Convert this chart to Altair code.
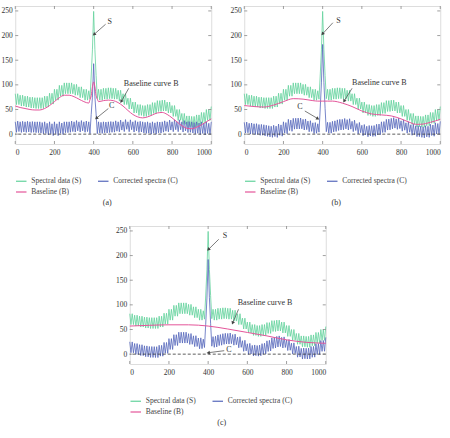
import altair as alt
import numpy as np
import pandas as pd

# ---------------- data ----------------
env_x = list(range(0, 1001, 25))
s_upper = [82, 79, 77, 75, 74, 74, 77, 83, 91, 99, 104, 104, 101, 96, 91, 88, 89, 91, 93, 94, 93,
           89, 82, 73, 65, 60, 58, 60, 64, 68, 69, 65, 58, 50, 42, 37, 36, 39, 44, 50, 56]
s_lower = [60, 57, 55, 53, 52, 52, 55, 61, 69, 77, 82, 82, 79, 74, 69, 66, 67, 69, 71, 72, 71,
           67, 60, 51, 43, 38, 36, 38, 42, 46, 47, 43, 36, 28, 20, 15, 14, 17, 22, 28, 34]
spike_x = [381.25, 387.5, 393.75, 400, 406.25, 412.5, 418.75]
spike_extra = [5, 30, 105, 160, 105, 30, 5]

ba_x = [0, 25, 50, 75, 100, 125, 150, 175, 200, 225, 250, 275, 300, 325, 350, 375,
        381.25, 387.5, 393.75, 400, 406.25, 412.5, 418.75,
        425, 450, 475, 500, 525, 550, 575, 600, 625, 650, 675, 700, 725, 750, 775, 800,
        825, 850, 875, 900, 925, 950, 975, 1000]
ba_v = [57, 54, 52, 50, 49, 49, 52, 58, 66, 74, 79, 79, 76, 71, 66, 63,
        70, 78, 96, 106, 96, 78, 71,
        66, 68, 69, 68, 64, 57, 48, 40, 35, 33, 35, 39, 43, 44, 40, 33,
        25, 17, 12, 11, 14, 19, 25, 31]

bb_x = [0, 50, 100, 150, 200, 250, 300, 350, 375, 400, 425, 450, 500, 550, 600, 650,
        700, 750, 800, 850, 875, 900, 950, 1000]
bb_v = [58, 56, 55, 59, 66, 72, 71, 68, 67, 67, 67, 67, 63, 56, 47, 41, 39, 37, 31, 23,
        20, 20, 24, 30]

bc_x = [0, 100, 200, 300, 400, 500, 600, 700, 800, 900, 1000]
bc_v = [57, 58.5, 59.5, 59.5, 57, 51, 44, 37, 29, 24, 22]

x_ticks = [0, 200, 400, 600, 800, 1000]
y_ticks = [0, 50, 100, 150, 200, 250]

# legend fills column by column: first column S and B, second column C
series_names = ["Spectral data (S)", "Baseline (B)", "Corrected spectra (C)"]
series_colors = ["#62d29c", "#e4559a", "#5567bb"]

ann_a = {"text": ["S", "Baseline curve B", "C"], "x": [471, 554, 478], "y": [228, 102, 57]}
arr_a = {"x1": [461, 579, 475], "y1": [223, 93, 52], "x2": [404, 542, 416], "y2": [203, 67, 33]}
ann_b = {"text": ["S", "Baseline curve B", "C"], "x": [469, 550, 270], "y": [230, 103, 55]}
arr_b = {"x1": [452, 550, 309], "y1": [226, 93, 47], "x2": [401, 511, 373], "y2": [204, 68, 32]}
ann_c = {"text": ["S", "Baseline curve B", "C"], "x": [474, 551, 492], "y": [240, 103, 8]}
arr_c = {"x1": [454, 555, 482], "y1": [233, 91, 7], "x2": [403, 526, 403], "y2": [213, 64, 3]}

# ---------------- build the zigzag spectrum ----------------
zx, zs = [], []
for k in range(len(env_x) - 1):
    for j, off in enumerate([0, 6.25, 12.5, 18.75]):
        zx.append(env_x[k] + off)
        zs.append(s_upper[k] if j % 2 == 0 else s_lower[k])
zx.append(env_x[-1])
zs.append(s_upper[-1])
zx = np.array(zx)
zs = np.array(zs, dtype=float)
for sx, se in zip(spike_x, spike_extra):
    zs[np.isclose(zx, sx)] += se

W, H = 196, 138
YMIN, YMAX = -20, 260
FONT = "Liberation Serif"
GRAY = "#444444"

XS = alt.Scale(domain=[0, 1000], nice=False, zero=False)
YS = alt.Scale(domain=[YMIN, YMAX], nice=False, zero=False)
XAX = alt.Axis(values=x_ticks, format="d", labelFont=FONT, labelFontSize=7.5, labelColor="#333",
               ticks=False, tickSize=0, domain=False, grid=False, labelPadding=4, title=None)
YAX = alt.Axis(values=y_ticks, format="d", labelFont=FONT, labelFontSize=7.5, labelColor="#333",
               ticks=False, tickSize=0, domain=False, grid=False, labelPadding=3, title=None)


def X(f):
    return alt.X(f, scale=XS, axis=XAX, title=None)


def Y(f):
    return alt.Y(f, scale=YS, axis=YAX, title=None)


def panel(bx, bv, ann, arr, label):
    c = zs - np.interp(zx, bx, bv)
    df_s = pd.DataFrame({"x": zx, "y": zs, "series": "Spectral data (S)"})
    df_c = pd.DataFrame({"x": zx, "y": c, "series": "Corrected spectra (C)"})
    df_b = pd.DataFrame({"x": bx, "y": bv, "series": "Baseline (B)"})

    legend = alt.Legend(orient="none", legendX=0, legendY=H + 31, columns=2,
                        symbolType="stroke", symbolSize=110, symbolStrokeWidth=1.2,
                        labelFont=FONT, labelFontSize=7.5, labelColor=GRAY,
                        labelOffset=4, columnPadding=14, rowPadding=1, title=None,
                        padding=0)
    color = alt.Color("series:N", scale=alt.Scale(domain=series_names, range=series_colors),
                      legend=legend)

    l_s = alt.Chart(df_s).mark_line(strokeWidth=0.8).encode(x=X("x:Q"), y=Y("y:Q"), color=color)
    l_c = alt.Chart(df_c).mark_line(strokeWidth=0.8).encode(x=X("x:Q"), y=Y("y:Q"), color=color)
    l_b = alt.Chart(df_b).mark_line(strokeWidth=1, interpolate="monotone").encode(
        x=X("x:Q"), y=Y("y:Q"), color=color)

    zero = alt.Chart(pd.DataFrame({"y": [0]})).mark_rule(
        strokeDash=[3, 2], color="#333", strokeWidth=0.8).encode(y=Y("y:Q"))

    tx = pd.DataFrame({"x": x_ticks})
    ty = pd.DataFrame({"y": y_ticks})
    tick_style = dict(color="#888", strokeWidth=0.8)
    t_b = alt.Chart(tx).mark_rule(**tick_style).encode(x=X("x:Q"), y=alt.value(H), y2=alt.value(H - 3))
    t_t = alt.Chart(tx).mark_rule(**tick_style).encode(x=X("x:Q"), y=alt.value(0), y2=alt.value(3))
    t_l = alt.Chart(ty).mark_rule(**tick_style).encode(y=Y("y:Q"), x=alt.value(0), x2=alt.value(3))
    t_r = alt.Chart(ty).mark_rule(**tick_style).encode(y=Y("y:Q"), x=alt.value(W), x2=alt.value(W - 3))

    df_ann = pd.DataFrame(ann)
    texts = alt.Chart(df_ann).mark_text(align="left", baseline="middle", font=FONT,
                                        fontSize=8, color="#333").encode(
        x=X("x:Q"), y=Y("y:Q"), text="text:N")

    df_arr = pd.DataFrame(arr)
    sx, sy = W / 1000.0, H / (YMAX - YMIN)
    dxp = (df_arr["x2"] - df_arr["x1"]) * sx
    dyp = -(df_arr["y2"] - df_arr["y1"]) * sy
    df_arr["ang"] = (np.degrees(np.arctan2(dxp, -dyp)) + 360) % 360
    lines = alt.Chart(df_arr).mark_rule(color=GRAY, strokeWidth=0.7).encode(
        x=X("x1:Q"), y=Y("y1:Q"), x2="x2:Q", y2="y2:Q")
    heads = alt.Chart(df_arr).mark_point(shape="triangle", filled=True, size=14,
                                         color=GRAY, opacity=1).encode(
        x=X("x2:Q"), y=Y("y2:Q"), angle=alt.Angle("ang:Q", scale=None))

    lab = alt.Chart(pd.DataFrame({"label": [label]})).mark_text(
        font=FONT, fontSize=8, color="#333", align="center", baseline="middle").encode(
        text="label:N", x=alt.value(W / 2 - 6), y=alt.value(H + 59))

    return alt.layer(l_s, l_c, l_b, zero, t_b, t_t, t_l, t_r, lines, heads, texts, lab).properties(
        width=W, height=H)


pa = panel(ba_x, ba_v, ann_a, arr_a, "(a)")
pb = panel(bb_x, bb_v, ann_b, arr_b, "(b)")
pc = panel(bc_x, bc_v, ann_c, arr_c, "(c)")

top = alt.hconcat(pa, pb, spacing=15).resolve_scale(color="independent")
chart = alt.vconcat(top, pc, spacing=17, center=True).resolve_scale(
    color="independent").properties(
    padding={"left": 0, "top": 5, "right": 0, "bottom": 0}
).configure_view(stroke="#999", strokeWidth=0.8).configure(background="white")

chart.save("out.html", embed_options={"renderer": "svg", "actions": False})
